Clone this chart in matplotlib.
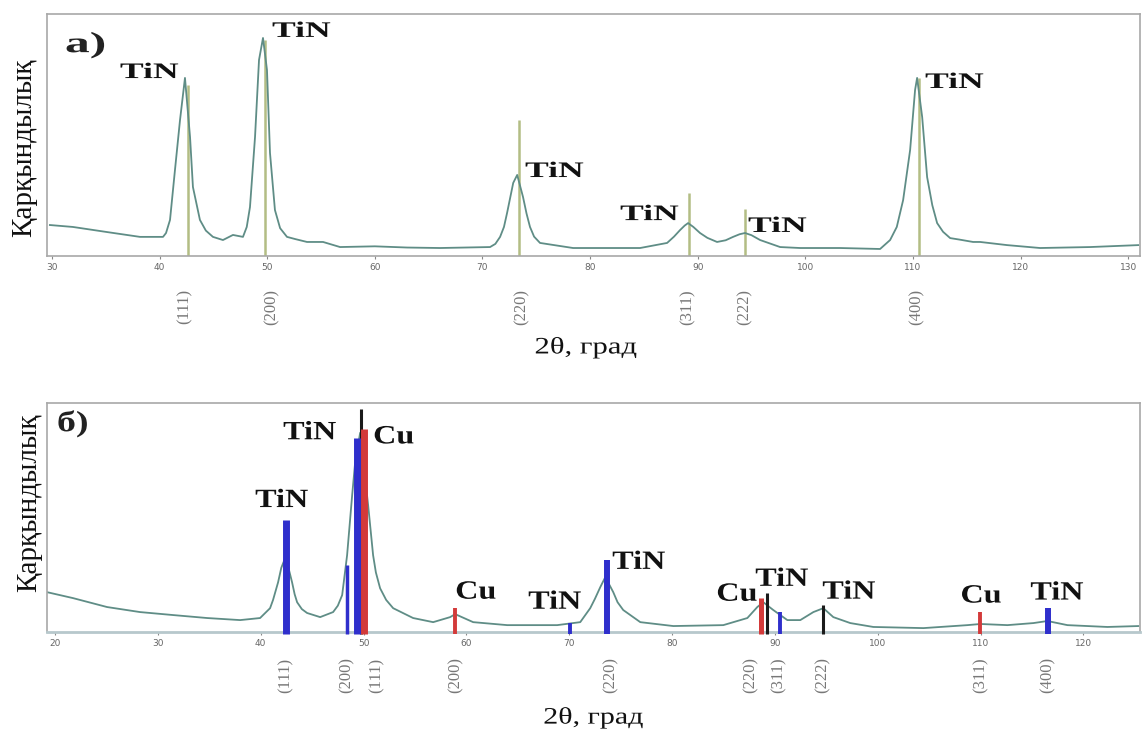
import matplotlib
matplotlib.use("Agg")
import matplotlib.pyplot as plt
from matplotlib.transforms import blended_transform_factory, Affine2D
from matplotlib.patheffects import AbstractPathEffect

# ---- panel a) : measured pattern + reference lines
top_2theta = [29.81, 31.95, 35.11, 38.18, 40.32, 40.60, 40.97, 41.43, 41.90, 42.36,
              42.83, 43.10, 43.75, 44.30, 44.96, 45.89, 46.82, 47.75, 48.10, 48.40,
              48.87, 49.24, 49.61, 49.98, 50.26, 50.72, 51.20, 51.84, 52.60, 53.70,
              55.19, 56.77, 60.00, 63.00, 66.06, 70.71, 71.20, 71.64, 72.00, 72.29,
              72.86, 73.23, 73.77, 74.10, 74.42, 74.80, 75.35, 78.42, 84.65, 87.16,
              87.80, 88.36, 88.80, 89.11, 89.60, 90.22, 90.90, 91.80, 92.60, 93.29,
              93.90, 94.40, 95.00, 95.80, 97.66, 99.52, 103.23, 106.95, 107.88, 108.50,
              109.09, 109.74, 110.20, 110.39, 110.86, 111.32, 111.80, 112.25, 112.80, 113.46,
              114.30, 115.59, 116.25, 118.75, 121.82, 126.47, 130.93]
top_intensity = [12.8, 12.0, 9.9, 7.9, 7.9, 9.5, 14.9, 35.5, 56.2, 73.6,
                 49.2, 28.5, 14.9, 10.5, 7.9, 6.6, 8.7, 7.9, 12.0, 20.2,
                 49.2, 81.0, 90.1, 76.9, 42.6, 19.0, 11.5, 7.9, 7.0, 5.8,
                 5.8, 3.7, 4.0, 3.5, 3.3, 3.7, 5.0, 7.9, 12.0, 17.8,
                 30.2, 33.5, 24.4, 17.5, 12.0, 8.0, 5.4, 3.3, 3.3, 5.4,
                 8.0, 10.7, 12.6, 13.6, 12.0, 9.5, 7.5, 5.8, 6.5, 7.9,
                 9.0, 9.5, 8.6, 6.6, 3.7, 3.3, 3.3, 2.9, 6.6, 12.0,
                 23.1, 43.8, 68.6, 73.6, 57.4, 32.6, 21.0, 13.6, 10.0, 7.4,
                 6.8, 5.8, 5.8, 4.5, 3.3, 3.7, 4.5]
top_ref_pos = [42.64, 49.80, 73.40, 89.20, 94.40, 110.55]
top_ref_height = [70.7, 89.3, 56.2, 26.0, 19.4, 73.6]
top_hkl = ["(111)", "(200)", "(220)", "(311)", "(222)", "(400)"]
top_hkl_pos = [42.36, 50.45, 73.68, 89.11, 94.40, 110.39]
top_labels = ["TiN", "TiN", "TiN", "TiN", "TiN", "TiN"]

# ---- panel б) : measured pattern + stick pattern
bot_2theta = [19.22, 21.75, 25.06, 28.27, 31.48, 34.79, 38.00, 39.94, 40.91, 41.20,
              41.69, 42.00, 42.37, 42.70, 43.05, 43.30, 43.54, 44.00, 44.51, 45.78,
              47.04, 47.50, 47.92, 48.40, 48.89, 49.18, 49.67, 50.45, 50.93, 51.20,
              51.61, 52.20, 52.88, 54.82, 56.77, 58.42, 58.91, 60.66, 63.97, 68.83,
              71.07, 72.04, 72.50, 73.02, 73.50, 73.80, 74.28, 74.70, 75.25, 76.91,
              80.12, 84.98, 87.32, 88.29, 88.87, 89.84, 91.21, 92.47, 93.74, 94.71,
              95.68, 97.33, 99.57, 104.44, 108.72, 109.98, 112.61, 115.14, 116.50, 118.44,
              122.33, 125.35]
bot_intensity = [17.4, 14.8, 10.9, 8.7, 7.4, 6.1, 5.2, 6.1, 10.4, 14.0,
                 21.7, 28.0, 32.2, 28.0, 21.7, 16.5, 13.0, 10.0, 8.3, 6.5,
                 8.7, 11.5, 16.1, 33.5, 59.6, 73.9, 87.0, 55.2, 33.5, 26.0,
                 19.1, 14.0, 10.4, 6.1, 4.3, 6.5, 7.8, 4.3, 3.0, 3.0,
                 4.3, 10.4, 14.5, 19.6, 23.9, 21.5, 17.4, 13.0, 9.6, 4.3,
                 2.6, 3.0, 6.1, 10.9, 13.0, 9.6, 5.2, 5.2, 8.7, 10.4,
                 6.5, 3.9, 2.2, 1.7, 3.0, 3.5, 3.0, 3.9, 4.8, 3.0,
                 2.2, 2.6]
stick_pos = [42.47, 48.40, 49.77, 49.38, 50.06, 58.91, 70.10, 73.70,
             88.68, 89.26, 90.53, 94.71, 109.98, 116.60]
stick_height = [48.7, 29.1, 97.4, 84.8, 88.7, 10.4, 3.9, 31.3,
                14.8, 17.0, 8.7, 11.7, 8.7, 10.4]
stick_phase = ["TiN", "TiN", "ref", "TiN", "Cu", "Cu", "TiN", "TiN",
               "Cu", "ref", "TiN", "ref", "Cu", "TiN"]
bot_hkl = ["(111)", "(200)", "(111)", "(200)", "(220)", "(220)", "(311)", "(222)", "(311)", "(400)"]
bot_hkl_pos = [42.47, 48.40, 51.32, 58.91, 73.99, 87.61, 90.33, 94.61, 109.98, 116.50]
bot_labels = ["TiN", "TiN", "Cu", "Cu", "TiN", "TiN", "Cu", "TiN", "TiN", "Cu", "TiN"]

# styles
stick_widths = [5.0, 2.5, 2.2, 5.0, 5.0, 2.8, 2.8, 4.3, 3.6, 2.2, 2.8, 2.2, 2.8, 4.3]
phase_color = {"TiN": "#2f2fcc", "Cu": "#d33a3a", "ref": "#1a1a1a"}
curve_color = "#5f8d86"
serif = ["Liberation Serif", "DejaVu Serif"]


class StretchX(AbstractPathEffect):
    # widen glyphs horizontally (the source figure has stretched lettering)
    def __init__(self, sx):
        super().__init__()
        self.sx = sx

    def draw_path(self, renderer, gc, tpath, affine, rgbFace=None):
        renderer.draw_path(gc, tpath, Affine2D().scale(self.sx, 1) + affine, rgbFace)


fig = plt.figure(figsize=(11.42, 7.40), dpi=100)
ax1 = fig.add_axes([47 / 1142, 1 - 256 / 740, 1093 / 1142, 242 / 740])
ax2 = fig.add_axes([47 / 1142, 1 - 632 / 740, 1093 / 1142, 229 / 740])

# top panel
ax1.vlines(top_ref_pos, 0, top_ref_height, color="#b3bd84", lw=1.8, zorder=2)
ax1.plot(top_2theta, top_intensity, color=curve_color, lw=1.3, zorder=3)
ax1.set_xlim(29.54, 131.1)
ax1.set_ylim(0, 100)
ax1.set_xticks(range(30, 131, 10))

# bottom panel
ax2.plot(bot_2theta, bot_intensity, color=curve_color, lw=1.3, zorder=2)
for x, h, ph, w in zip(stick_pos, stick_height, stick_phase, stick_widths):
    ax2.vlines(x, -1, h, color=phase_color[ph], lw=w, zorder=3, clip_on=False)
ax2.set_xlim(19.22, 125.5)
ax2.set_ylim(0, 100)
ax2.set_xticks(range(20, 121, 10))

for ax in (ax1, ax2):
    ax.set_yticks([])
    ax.tick_params(axis="x", length=2, width=0.8, pad=3, labelsize=6.5,
                   labelcolor="#666666", color="#888888")
    for s in ax.spines.values():
        s.set_color("#a8a8a8")
        s.set_linewidth(1.2)
ax2.spines["bottom"].set_color("#b7c8cc")
ax2.spines["bottom"].set_linewidth(2)

# peak labels (left edge, vertical centre)
top_label_xy = [(36.32, 75.6), (50.45, 92.6), (73.96, 34.7), (82.79, 16.9), (94.68, 12.0), (111.13, 71.5)]
for t, (x, y) in zip(top_labels, top_label_xy):
    ax1.text(x, y, t, ha="left", va="center", fontsize=16, fontweight="bold",
             family=serif, color="#111111", zorder=4, path_effects=[StretchX(1.6)])
bot_label_xy = [(39.46, 57.4), (42.18, 87.0), (50.93, 85.2), (58.91, 17.4), (66.01, 13.0),
                (74.18, 30.4), (84.30, 16.5), (88.09, 23.0), (94.61, 17.4), (108.04, 15.7),
                (114.84, 17.0)]
for t, (x, y) in zip(bot_labels, bot_label_xy):
    ax2.text(x, y, t, ha="left", va="center", fontsize=19, fontweight="bold",
             family=serif, color="#111111", zorder=4, path_effects=[StretchX(1.22)])

ax1.text(31.21, 87.2, "а)", ha="left", va="center", fontsize=21, fontweight="bold",
         family=serif, color="#222222", path_effects=[StretchX(1.7)])
ax2.text(20.19, 91.0, "б)", ha="left", va="center", fontsize=21, fontweight="bold",
         family=serif, color="#222222", path_effects=[StretchX(1.3)])

# Miller indices under the axes
tr1 = blended_transform_factory(ax1.transData, ax1.transAxes)
for t, x in zip(top_hkl, top_hkl_pos):
    ax1.text(x, -0.21, t, transform=tr1, rotation=90, ha="center", va="center",
             fontsize=12, family=serif, color="#777777")
tr2 = blended_transform_factory(ax2.transData, ax2.transAxes)
for t, x in zip(bot_hkl, bot_hkl_pos):
    ax2.text(x, -0.188, t, transform=tr2, rotation=90, ha="center", va="center",
             fontsize=12, family=serif, color="#777777")

# axis titles
ax1.text(0.446, -0.38, "2θ, град", transform=ax1.transAxes, ha="left", va="center",
         fontsize=17, family=serif, color="#111111", path_effects=[StretchX(1.3)])
ax2.text(0.454, -0.376, "2θ, град", transform=ax2.transAxes, ha="left", va="center",
         fontsize=17, family=serif, color="#111111", path_effects=[StretchX(1.27)])
ax1.text(-0.021, 0.446, "Қарқындылық", transform=ax1.transAxes, rotation=90,
         ha="center", va="center", fontsize=21, family=serif, color="#111111")
ax2.text(-0.016, 0.563, "Қарқындылық", transform=ax2.transAxes, rotation=90,
         ha="center", va="center", fontsize=21, family=serif, color="#111111")

fig.savefig("out.png", dpi=100)
